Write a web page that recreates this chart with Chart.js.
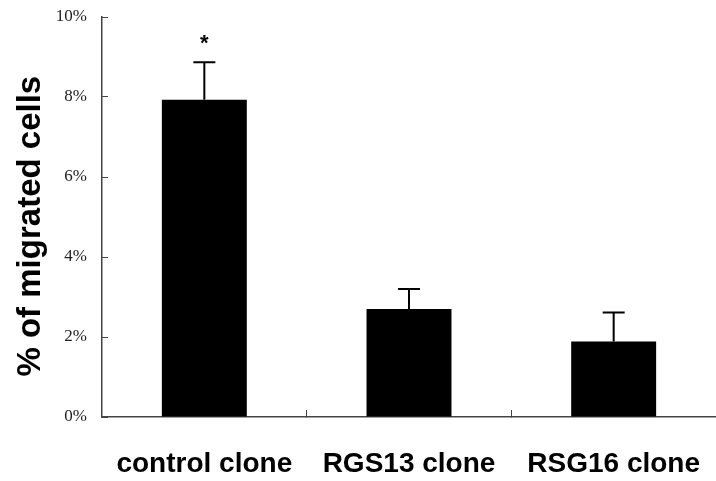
<!DOCTYPE html>
<html>
<head>
<meta charset="utf-8">
<script src="https://cdn.jsdelivr.net/npm/chart.js@4/dist/chart.umd.min.js"></script>
<style>
  html, body { margin: 0; padding: 0; background: #fff; }
  #wrap { width: 716px; height: 481px; }
</style>
</head>
<body>
<div id="wrap"><canvas id="c" width="716" height="481"></canvas></div>
<script>
// Migration assay: mean % of migrated cells per clone, with SD (upper bar only)
const categories = ['control clone', 'RGS13 clone', 'RSG16 clone'];
const migratedPct = [7.93, 2.70, 1.89];
const sdPct = [0.94, 0.50, 0.72];
const significance = ['*', '', ''];
const yTicks = [0, 2, 4, 6, 8, 10];

// Upper error whiskers plus significance marks
const errorBars = {
  id: 'errorBars',
  afterDatasetsDraw(chart) {
    const ctx = chart.ctx;
    const y = chart.scales.y;
    const meta = chart.getDatasetMeta(0);
    ctx.save();
    ctx.strokeStyle = '#000';
    ctx.lineWidth = 2;
    meta.data.forEach((bar, i) => {
      const yTop = y.getPixelForValue(migratedPct[i] + sdPct[i]);
      const yBar = y.getPixelForValue(migratedPct[i]);
      ctx.beginPath();
      ctx.moveTo(bar.x, yBar);
      ctx.lineTo(bar.x, yTop);
      ctx.moveTo(bar.x - 11, yTop);
      ctx.lineTo(bar.x + 11, yTop);
      ctx.stroke();
      if (significance[i]) {
        ctx.fillStyle = '#000';
        ctx.font = 'bold 22px "Liberation Sans", Arial, sans-serif';
        ctx.textAlign = 'center';
        ctx.textBaseline = 'middle';
        ctx.fillText(significance[i], bar.x, yTop - 18);
      }
    });
    ctx.restore();
  }
};

new Chart(document.getElementById('c'), {
  type: 'bar',
  data: {
    labels: categories,
    datasets: [{
      data: migratedPct,
      backgroundColor: '#000',
      borderColor: '#000',
      borderWidth: 0,
      categoryPercentage: 1.0,
      barPercentage: 0.415
    }]
  },
  options: {
    responsive: false,
    animation: false,
    devicePixelRatio: 1,
    layout: { padding: { top: 17, right: 0, bottom: 0, left: 0 } },
    plugins: { legend: { display: false }, tooltip: { enabled: false } },
    scales: {
      x: {
        offset: true,
        grid: {
          offset: true,
          drawOnChartArea: false,
          drawTicks: true,
          tickLength: -7,
          color: '#444',
          lineWidth: 1
        },
        border: { display: true, color: '#444', width: 1.5 },
        ticks: {
          color: '#000',
          padding: 37,
          font: { family: '"Liberation Sans", Arial, sans-serif', size: 28, weight: 'bold' }
        },
        afterFit(scale) {
          scale.height = 64;
          scale.paddingLeft = 0;
          scale.paddingRight = 0;
        }
      },
      y: {
        min: 0,
        max: 10,
        afterBuildTicks(scale) { scale.ticks = yTicks.map(v => ({ value: v })); },
        grid: {
          drawOnChartArea: false,
          drawTicks: true,
          tickLength: -6,
          color: '#444',
          lineWidth: 1
        },
        border: { display: true, color: '#444', width: 1.5 },
        ticks: {
          color: '#222',
          padding: 21,
          font: { family: '"Liberation Serif", "DejaVu Serif", serif', size: 17 },
          callback: v => v + '%'
        },
        title: {
          display: true,
          // trailing spaces nudge the centred title a little lower
          text: '% of migrated cells  ',
          color: '#000',
          padding: { top: 11, bottom: 0 },
          font: { family: '"Liberation Sans", Arial, sans-serif', size: 33, weight: 'bold' }
        },
        afterFit(scale) {
          scale.width = 102;
          scale.paddingTop = 0;
          scale.paddingBottom = 0;
        }
      }
    }
  },
  plugins: [errorBars]
});
</script>
</body>
</html>
